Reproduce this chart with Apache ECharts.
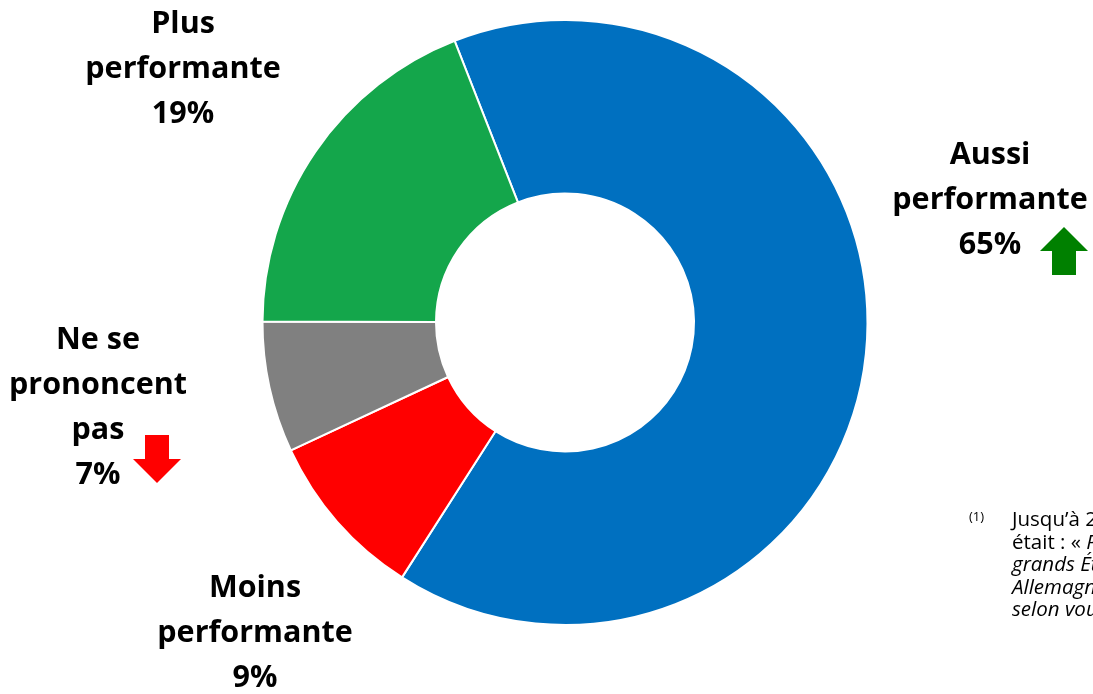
<!DOCTYPE html>
<html>
<head>
<meta charset="utf-8">
<script src="https://cdn.jsdelivr.net/npm/echarts@6/dist/echarts.min.js"></script>
<style>
html,body{margin:0;padding:0;background:#fff;}
#chart{width:1093px;height:694px;}
</style>
</head>
<body>
<div id="chart"></div>
<script>
// ---- data ----
const categories = ['Aussi performante', 'Moins performante', 'Ne se prononcent pas', 'Plus performante'];
const labelWords = [['Aussi', 'performante'], ['Moins', 'performante'], ['Ne se', 'prononcent', 'pas'], ['Plus', 'performante']];
const values = [65, 9, 7, 19];
const trends = ['up', null, 'down', null];
const footnoteMark = '(1)';
const footnoteLines = [
  ['n', 'Jusqu\u2019à 2019, la question'],
  ['n', 'était : « ', 'i', 'Par rapport aux autres'],
  ['i', 'grands États européens'],
  ['i', 'Allemagne, Italie, ...)'],
  ['i', 'selon vous... »']
];

// ---- styles / layout ----
const colors = ['#0070C0', '#FF0000', '#808080', '#14A64B'];
const labelPos = [[990, 200], [255, 633], [98, 408], [183, 69]];
const arrowPos = { up: [1064, 251], down: [157, 459] };
const fontFamily = '"Open Sans", "Liberation Sans", sans-serif';

const chart = echarts.init(document.getElementById('chart'), null, { renderer: 'canvas' });

function arrowShape(dir, cx, cy) {
  const hw = 24, sw = 12, h = 24;
  if (dir === 'up') {
    return [[cx, cy - h], [cx + hw, cy], [cx + sw, cy], [cx + sw, cy + h], [cx - sw, cy + h], [cx - sw, cy], [cx - hw, cy]];
  }
  return [[cx, cy + h], [cx + hw, cy], [cx + sw, cy], [cx + sw, cy - h], [cx - sw, cy - h], [cx - sw, cy], [cx - hw, cy]];
}

const graphics = [];
trends.forEach(function (t) {
  if (!t) return;
  const p = arrowPos[t];
  graphics.push({
    type: 'polygon',
    shape: { points: arrowShape(t, p[0], p[1]) },
    style: { fill: t === 'up' ? '#008000' : '#FF0000' },
    silent: true
  });
});
graphics.push({
  type: 'text', left: 969, top: 511,
  style: { text: footnoteMark, fontSize: 13, fontFamily: fontFamily, fill: '#000' }
});
footnoteLines.forEach(function (parts, i) {
  let txt = '';
  for (let k = 0; k < parts.length; k += 2) {
    txt += '{' + parts[k] + '|' + parts[k + 1] + '}';
  }
  graphics.push({
    type: 'text', left: 1012, top: 510 + i * 22.6,
    style: {
      text: txt,
      fontSize: 20.5,
      fontFamily: fontFamily,
      fill: '#000',
      rich: {
        n: { fontSize: 20.5, fontFamily: fontFamily, fontStyle: 'normal', fill: '#000', lineHeight: 23 },
        i: { fontSize: 20.5, fontFamily: fontFamily, fontStyle: 'italic', fill: '#000', lineHeight: 23 }
      }
    }
  });
});

chart.setOption({
  animation: false,
  backgroundColor: '#ffffff',
  color: colors,
  series: [{
    type: 'pie',
    center: [565, 322.5],
    radius: [129, 302.5],
    startAngle: 111.4,
    clockwise: true,
    silent: true,
    itemStyle: { borderColor: '#ffffff', borderWidth: 2 },
    labelLine: { show: false },
    label: {
      show: true,
      position: 'outside',
      formatter: function (p) {
        return labelWords[p.dataIndex].join('\n') + '\n' + p.value + '%';
      },
      fontFamily: fontFamily,
      fontWeight: 'bold',
      fontSize: 30.5,
      lineHeight: 45,
      color: '#000',
      align: 'center',
      width: 260,
      overflow: 'none'
    },
    labelLayout: function (p) {
      const pos = labelPos[p.dataIndex];
      return { x: pos[0], y: pos[1], align: 'center', verticalAlign: 'middle', hideOverlap: false, moveOverlap: false };
    },
    data: categories.map(function (c, i) { return { name: c, value: values[i] }; })
  }],
  graphic: graphics
});
</script>
</body>
</html>
